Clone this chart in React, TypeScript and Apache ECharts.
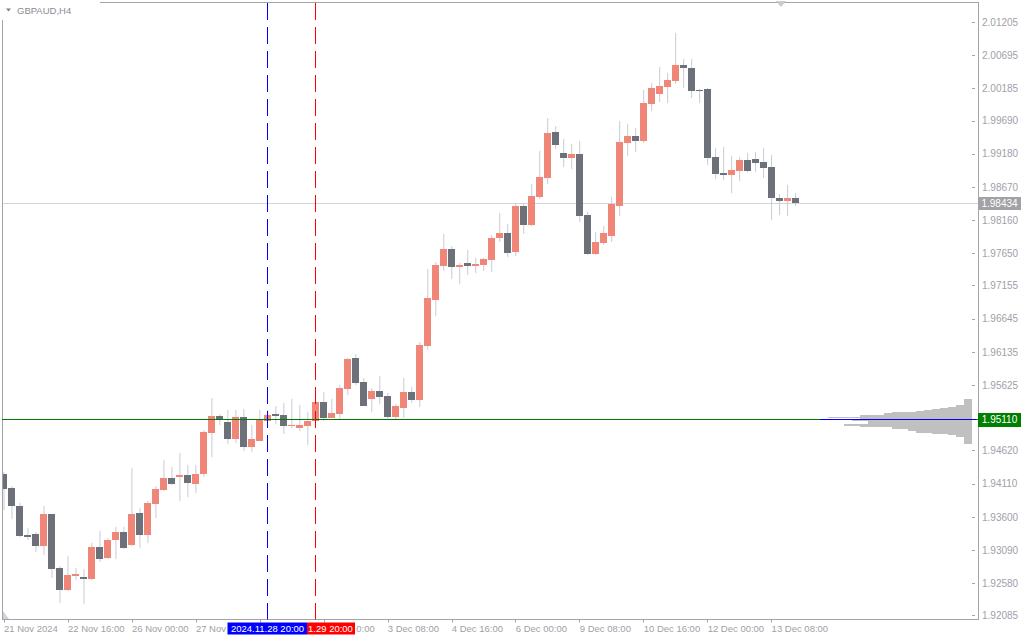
import React, { useEffect, useRef } from "react";
import * as echarts from "echarts";

// ---- time axis ----
const tradingDays = [
  "2024.11.21", "2024.11.22", "2024.11.25", "2024.11.26", "2024.11.27", "2024.11.28", "2024.11.29",
  "2024.12.02", "2024.12.03", "2024.12.04", "2024.12.05", "2024.12.06", "2024.12.09", "2024.12.10",
  "2024.12.11", "2024.12.12", "2024.12.13",
];
const barHours = ["00:00", "04:00", "08:00", "12:00", "16:00", "20:00"];
const categories = tradingDays.flatMap((d) => barHours.map((h) => `${d} ${h}`)).slice(2);
const emptySlots = ["+1", "+2", "+3", "+4", "+5", "+6", "+7", "+8", "+9", "+10", "+11", "+12", "+13", "+14", "+15", "+16", "+17", "+18", "+19", "+20", "+21", "+22"];

// tick positions (bar index) and their labels; labels hidden under the time boxes are blank
const xTickIndex = [0, 8, 16, 24, 32, 40, 48, 56, 64, 72, 80, 88, 96];
const xTickText = [
  "21 Nov 2024", "22 Nov 16:00", "26 Nov 00:00", "27 Nov", "", "",
  "3 Dec 08:00", "4 Dec 16:00", "6 Dec 00:00", "9 Dec 08:00", "10 Dec 16:00", "12 Dec 00:00", "13 Dec 08:00",
];
const partlyHiddenTick = "0:00"; // visible tail of "2 Dec 00:00"

// ---- price axis ----
const yTickValues = [
  2.01205, 2.00695, 2.00185, 1.9969, 1.9918, 1.9867, 1.9816, 1.9765, 1.97155, 1.96645, 1.96135,
  1.95625, 1.9462, 1.9411, 1.936, 1.9309, 1.9258, 1.92085,
];
const yMin = 1.92025;
const yMax = 2.01516;

// ---- GBPAUD H4 candles ----
const openVals = [
  1.94262, 1.94046, 1.9377, 1.93329, 1.93339, 1.9316, 1.93647, 1.92817, 1.92483, 1.92694,
  1.92678, 1.92648, 1.9314, 1.92975, 1.93252, 1.9337, 1.93175, 1.93662, 1.93329, 1.93805,
  1.9402, 1.942, 1.94215, 1.94246, 1.94112, 1.94266, 1.94896, 1.95153, 1.95061, 1.94804,
  1.95138, 1.94681, 1.94773, 1.95081, 1.95184, 1.95168, 1.95004, 1.94973, 1.95004, 1.95081,
  1.95368, 1.95127, 1.95188, 1.95573, 1.96045, 1.95676, 1.95419, 1.95537, 1.95461, 1.95142,
  1.95281, 1.95522, 1.95399, 1.96229, 1.96936, 1.97463, 1.9772, 1.97448, 1.97505, 1.97463,
  1.97479, 1.97555, 1.97894, 1.97966, 1.97678, 1.98381, 1.98089, 1.98519, 1.98811, 1.99518,
  1.99195, 1.99119, 1.9918, 1.98242, 1.97643, 1.97812, 1.9792, 1.98381, 1.99349, 1.99457,
  1.9938, 1.99949, 2.00102, 2.0021, 2.00302, 2.00548, 2.00502, 2.00164, 2.00179, 1.99134,
  1.98888, 1.98857, 1.98919, 1.99088, 1.99103, 1.99057, 1.9898, 1.98504, 1.98458, 1.98504,
];
const highVals = [
  1.94292, 1.94077, 1.93811, 1.93432, 1.93375, 1.9377, 1.93647, 1.92848, 1.93001, 1.92817,
  1.92801, 1.93201, 1.93386, 1.93278, 1.93447, 1.93447, 1.94354, 1.93739, 1.93847, 1.94077,
  1.94477, 1.94369, 1.94584, 1.944, 1.944, 1.94938, 1.9543, 1.95184, 1.95245, 1.95245,
  1.95261, 1.95015, 1.95245, 1.95245, 1.95307, 1.95353, 1.95414, 1.95322, 1.95215, 1.95384,
  1.95522, 1.95414, 1.9563, 1.96045, 1.96106, 1.95737, 1.95583, 1.95768, 1.95507, 1.95338,
  1.95737, 1.95599, 1.96291, 1.97413, 1.9752, 1.9795, 1.97766, 1.97505, 1.97705, 1.97582,
  1.97582, 1.97935, 1.98273, 1.98104, 1.98427, 1.98427, 1.98719, 1.99226, 1.99733, 1.9961,
  1.99411, 1.99334, 1.9938, 1.98289, 1.97981, 1.98073, 1.98519, 1.99687, 1.99641, 1.9958,
  2.00164, 2.00271, 2.00517, 2.00425, 2.0104, 2.0064, 2.0064, 2.00179, 2.00194, 1.99272,
  1.99288, 1.99149, 1.99134, 1.99195, 1.99211, 1.99272, 1.99165, 1.98565, 1.98704, 1.98581,
];
const lowVals = [
  1.93708, 1.93575, 1.93293, 1.93247, 1.93067, 1.93021, 1.92668, 1.92284, 1.92468, 1.92632,
  1.92259, 1.92632, 1.92914, 1.9296, 1.9296, 1.93109, 1.9316, 1.93129, 1.93206, 1.9359,
  1.94, 1.94093, 1.93851, 1.93913, 1.93974, 1.9422, 1.94528, 1.95019, 1.94727, 1.94743,
  1.9462, 1.94604, 1.94769, 1.95069, 1.95035, 1.94881, 1.94973, 1.94927, 1.94712, 1.95069,
  1.95081, 1.95115, 1.95092, 1.95481, 1.95634, 1.95299, 1.95219, 1.95342, 1.95112, 1.95112,
  1.95127, 1.95358, 1.95296, 1.96168, 1.9669, 1.97382, 1.97259, 1.97182, 1.9732, 1.97351,
  1.97382, 1.97371, 1.97832, 1.97602, 1.97617, 1.9795, 1.98073, 1.98488, 1.98719, 1.99257,
  1.9898, 1.9895, 1.98135, 1.97628, 1.97628, 1.97781, 1.97828, 1.98227, 1.99149, 1.99211,
  1.99349, 1.99841, 1.99979, 1.99964, 2.00256, 2.00194, 2.00041, 1.99964, 1.99011, 1.98796,
  1.9878, 1.98581, 1.98765, 1.98903, 1.98903, 1.98811, 1.98166, 1.98242, 1.98227, 1.98381,
];
const closeVals = [
  1.94036, 1.9377, 1.93313, 1.93298, 1.9316, 1.93647, 1.92806, 1.92483, 1.92709, 1.92725,
  1.92648, 1.9314, 1.9296, 1.93247, 1.9337, 1.93129, 1.93647, 1.93329, 1.93816, 1.94031,
  1.942, 1.94112, 1.94246, 1.94128, 1.94262, 1.94912, 1.95153, 1.95112, 1.94804, 1.95138,
  1.94681, 1.948, 1.95096, 1.95168, 1.95158, 1.95004, 1.95019, 1.95019, 1.95081, 1.95368,
  1.95127, 1.95199, 1.95583, 1.96029, 1.95665, 1.95311, 1.95537, 1.9545, 1.95142, 1.95307,
  1.95522, 1.95399, 1.96244, 1.96967, 1.97474, 1.9772, 1.97448, 1.97474, 1.97463, 1.97489,
  1.97566, 1.97889, 1.97966, 1.97663, 1.98381, 1.98089, 1.98535, 1.98827, 1.99503, 1.99318,
  1.99119, 1.9918, 1.98227, 1.97643, 1.97828, 1.97966, 1.98412, 1.99365, 1.99457, 1.9938,
  1.99964, 2.00194, 2.00225, 2.00317, 2.00548, 2.00502, 2.00148, 2.00148, 1.99119, 1.98873,
  1.98857, 1.98934, 1.99088, 1.98919, 1.99042, 1.98965, 1.98504, 1.98458, 1.98504, 1.98434,
];

// ---- objects on the chart ----
const bidPrice = 1.98434;
const levelPrice = 1.9511;
const markedBars = [33, 39];
const markedLabels = ["2024.11.28 20:00", "1.29 20:00"]; // second box is partly covered by the first

// ---- volume profile (row edges in price, relative volume per row) ----
const profileEdges = [
  1.95414, 1.95322, 1.95291, 1.95276, 1.95261, 1.95245, 1.9523, 1.95215, 1.95199, 1.95168, 1.95138,
  1.95122, 1.95107, 1.95092, 1.95076, 1.95061, 1.9503, 1.94999, 1.94984, 1.94953, 1.94923, 1.94892,
  1.94876, 1.94861, 1.9483, 1.94723,
];
const profileVolumes = [8, 16, 24, 32, 40, 48, 56, 80, 88, 112, 144, 112, 112, 120, 104, 104, 128, 112, 80, 64, 56, 40, 24, 16, 8];

const BULL = "#ef8677";
const BEAR = "#6b7079";
const WICK = "#c9cbd4";
const AXIS_TEXT = "#9fa0a8";
const FRAME = "#a3a3a8";
const FONT = '"Liberation Sans", Arial, sans-serif';

export default function App() {
  const ref = useRef<HTMLDivElement>(null);

  useEffect(() => {
    const chart = echarts.init(ref.current as HTMLDivElement, null, { renderer: "svg" });
    const candleData = categories.map((_, i) => [i, openVals[i], closeVals[i], lowVals[i], highVals[i]]);
    const profileData = profileVolumes.map((v, i) => [v, profileEdges[i], profileEdges[i + 1]]);

    const option: any = {
      animation: false,
      backgroundColor: "#ffffff",
      grid: { left: -0.5, top: 2, width: 976, height: 617.5, containLabel: false },
      xAxis: [
        {
          type: "category",
          data: [...categories, ...emptySlots],
          boundaryGap: true,
          axisLine: { show: false },
          axisTick: {
            show: true,
            alignWithLabel: true,
            length: 3,
            interval: (i: number) => xTickIndex.includes(i),
            lineStyle: { color: FRAME },
          },
          axisLabel: {
            interval: (i: number) => xTickIndex.includes(i),
            formatter: (_v: string, i: number) => {
              const k = xTickIndex.indexOf(i);
              return k >= 0 ? xTickText[k] : "";
            },
            align: "left",
            margin: 4,
            color: AXIS_TEXT,
            fontSize: 9.5,
            fontFamily: FONT,
          },
          splitLine: { show: false },
        },
        { type: "value", show: false, inverse: true, min: -3.5, max: 972.5, gridIndex: 0 },
      ],
      yAxis: {
        type: "value",
        position: "right",
        min: yMin,
        max: yMax,
        offset: 2.5,
        axisLine: { show: false },
        axisTick: { show: true, length: 3, customValues: yTickValues, lineStyle: { color: FRAME } },
        axisLabel: {
          customValues: yTickValues,
          formatter: (v: number) => v.toFixed(5),
          margin: 4,
          color: AXIS_TEXT,
          fontSize: 10,
          fontFamily: FONT,
        },
        splitLine: { show: false },
      },
      series: [
        {
          type: "custom",
          name: "GBPAUD",
          xAxisIndex: 0,
          yAxisIndex: 0,
          z: 2,
          clip: true,
          encode: { x: 0, y: [1, 2, 3, 4] },
          data: candleData,
          renderItem: (_p: any, api: any) => {
            const idx = api.value(0);
            const o = api.value(1);
            const c = api.value(2);
            const l = api.value(3);
            const h = api.value(4);
            const pO = api.coord([idx, o]);
            const pC = api.coord([idx, c]);
            const pL = api.coord([idx, l]);
            const pH = api.coord([idx, h]);
            const band = api.size([1, 0])[0];
            const bw = band * 0.875;
            const cx = pO[0];
            const top = Math.round(Math.min(pO[1], pC[1]));
            const bot = Math.round(Math.max(pO[1], pC[1]));
            const color = c > o ? BULL : BEAR;
            return {
              type: "group",
              children: [
                {
                  type: "line",
                  shape: { x1: cx, y1: Math.round(pH[1]), x2: cx, y2: Math.round(pL[1]) },
                  style: { stroke: WICK, lineWidth: 1 },
                },
                {
                  type: "rect",
                  shape: { x: Math.round(cx - bw / 2), y: top, width: Math.round(bw), height: Math.max(1, bot - top) },
                  style: { fill: color },
                },
              ],
            };
          },
        },
        {
          type: "custom",
          name: "Volume profile",
          xAxisIndex: 1,
          yAxisIndex: 0,
          z: 3,
          encode: { x: 0, y: [1, 2] },
          data: profileData,
          renderItem: (_p: any, api: any) => {
            const v = api.value(0);
            const hi = api.value(1);
            const lo = api.value(2);
            const a = api.coord([0, hi]);
            const b = api.coord([v, lo]);
            const y1 = Math.round(a[1]);
            const y2 = Math.round(b[1]);
            return {
              type: "rect",
              shape: { x: Math.round(b[0]), y: y1, width: Math.round(a[0]) - Math.round(b[0]), height: Math.max(1, y2 - y1) },
              style: { fill: "#c0c0c0" },
            };
          },
        },
      ],
    };

    chart.setOption(option);

    const px = (i: number) => chart.convertToPixel({ xAxisIndex: 0 }, i) as number;
    const py = (v: number) => chart.convertToPixel({ yAxisIndex: 0 }, v) as number;

    const yBid = Math.round(py(bidPrice)) + 0.5;
    const yLvl = Math.round(py(levelPrice)) + 0.5;
    const xBlue = Math.floor(px(markedBars[0])) + 0.5;
    const xRed = Math.floor(px(markedBars[1])) + 0.5;
    const xTick40 = px(xTickIndex[5]);
    const R = 978.5;
    const B = 619.5;
    const blueLeft = xBlue - 40;
    const blueRight = blueLeft + 79.5;
    const redRight = xRed - 40 + 79.5;

    const graphic: any[] = [
      // bid line (behind candles)
      { type: "line", z: 1, silent: true, shape: { x1: 2, y1: yBid, x2: R, y2: yBid }, style: { stroke: "#d4d5dc", lineWidth: 1 } },
      // left mask and frame
      { type: "rect", z: 9, silent: true, shape: { x: 0, y: 0, width: 2, height: 640 }, style: { fill: "#ffffff" } },
      { type: "line", z: 10, silent: true, shape: { x1: 2.5, y1: 20, x2: 2.5, y2: B + 0.5 }, style: { stroke: FRAME, lineWidth: 1 } },
      { type: "line", z: 10, silent: true, shape: { x1: 100, y1: 2.5, x2: R + 0.5, y2: 2.5 }, style: { stroke: FRAME, lineWidth: 1 } },
      { type: "line", z: 10, silent: true, shape: { x1: R, y1: 2, x2: R, y2: B + 0.5 }, style: { stroke: FRAME, lineWidth: 1 } },
      { type: "line", z: 10, silent: true, shape: { x1: 2, y1: B, x2: R + 0.5, y2: B }, style: { stroke: FRAME, lineWidth: 1 } },
      // chart shift markers
      { type: "polygon", z: 10, silent: true, shape: { points: [[776, 1], [786, 1], [781, 7]] }, style: { fill: "#c9cad2" } },
      { type: "polygon", z: 10, silent: true, shape: { points: [[3, 611], [3, 619], [9, 619]] }, style: { fill: "#d0d1d8" } },
      // title
      { type: "polygon", z: 10, silent: true, shape: { points: [[6, 8.5], [11, 8.5], [8.5, 11.5]] }, style: { fill: "#7f8089" } },
      {
        type: "text", z: 10, silent: true, x: 17, y: 10,
        style: { text: "GBPAUD,H4", fill: "#8a8b95", fontSize: 9.5, fontFamily: FONT, verticalAlign: "middle", align: "left" },
      },
      // horizontal level line (green) and profile line (blue)
      { type: "line", z: 10, silent: true, shape: { x1: 2, y1: yLvl, x2: R, y2: yLvl }, style: { stroke: "#007a00", lineWidth: 1 } },
      { type: "line", z: 11, silent: true, shape: { x1: 820, y1: yLvl, x2: 976, y2: yLvl }, style: { stroke: "#0000ff", lineWidth: 1 } },
      // vertical dashed lines
      { type: "line", z: 10, silent: true, shape: { x1: xBlue, y1: 3, x2: xBlue, y2: B }, style: { stroke: "#0000ff", lineWidth: 1, lineDash: [17, 7] } },
      { type: "line", z: 10, silent: true, shape: { x1: xRed, y1: 3, x2: xRed, y2: B }, style: { stroke: "#ff0000", lineWidth: 1, lineDash: [17, 7] } },
      // visible tail of the "2 Dec 00:00" tick label
      {
        type: "text", z: 11, silent: true, x: xTick40 + 32.5, y: 628.7,
        style: { text: partlyHiddenTick, fill: AXIS_TEXT, fontSize: 9.5, fontFamily: FONT, align: "left", verticalAlign: "middle" },
      },
      // time labels of the vertical lines (red partly under blue)
      { type: "rect", z: 12, silent: true, shape: { x: blueRight, y: 622.5, width: redRight - blueRight, height: 12 }, style: { fill: "#ff0000" } },
      {
        type: "text", z: 13, silent: true, x: blueRight + 1, y: 628.7,
        style: { text: markedLabels[1], fill: "#ffffff", fontSize: 9.5, fontFamily: FONT, align: "left", verticalAlign: "middle" },
      },
      { type: "rect", z: 14, silent: true, shape: { x: blueLeft, y: 622.5, width: 79.5, height: 12 }, style: { fill: "#0000ff" } },
      {
        type: "text", z: 15, silent: true, x: xBlue, y: 628.7,
        style: { text: markedLabels[0], fill: "#ffffff", fontSize: 9.5, fontFamily: FONT, align: "center", verticalAlign: "middle" },
      },
      // price labels on the right axis
      { type: "rect", z: 12, silent: true, shape: { x: 978, y: Math.round(yBid) - 7, width: 43, height: 13 }, style: { fill: "#a1a1a6" } },
      {
        type: "text", z: 13, silent: true, x: 999.5, y: yBid,
        style: { text: bidPrice.toFixed(5), fill: "#ffffff", fontSize: 10, fontFamily: FONT, align: "center", verticalAlign: "middle" },
      },
      { type: "rect", z: 12, silent: true, shape: { x: 978, y: Math.round(yLvl) - 7, width: 43, height: 14 }, style: { fill: "#008000" } },
      {
        type: "text", z: 13, silent: true, x: 999.5, y: yLvl,
        style: { text: levelPrice.toFixed(5), fill: "#ffffff", fontSize: 10, fontFamily: FONT, align: "center", verticalAlign: "middle" },
      },
    ];

    chart.setOption({ graphic });

    return () => chart.dispose();
  }, []);

  return (
    <div
      ref={ref}
      style={{ position: "fixed", left: 0, top: 0, width: 1024, height: 640, background: "#ffffff" }}
    />
  );
}
